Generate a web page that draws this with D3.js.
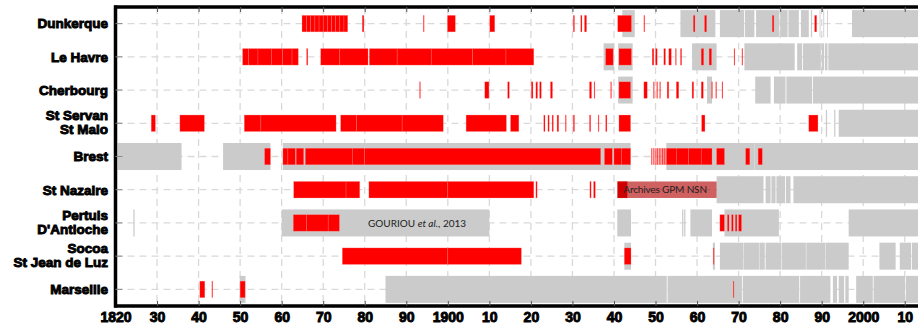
<!DOCTYPE html>
<html>
<head>
<meta charset="utf-8">
<script src="https://cdn.jsdelivr.net/npm/d3@7"></script>
<style>
  html, body { margin: 0; padding: 0; background: #fff; }
  svg { display: block; }
  .port-label { font-family: "Liberation Sans", Arial, sans-serif; font-weight: bold; font-size: 13.5px; fill: #000; stroke: #000; stroke-width: 0.9px; }
  .year-label { font-family: "Liberation Sans", Arial, sans-serif; font-weight: bold; font-size: 14px; fill: #000; stroke: #000; stroke-width: 0.9px; }
  .note { font-family: Lato, "Open Sans", sans-serif; font-size: 10px; fill: #222; }
</style>
</head>
<body>
<svg id="chart" width="918" height="325"></svg>
<script>
// Tide gauge records of French ports: digital series (gray) and archived sheets (red).
const ports = ["Dunkerque", "Le Havre", "Cherbourg", "St Servan|St Malo", "Brest",
               "St Nazaire", "Pertuls|D'Antioche", "Socoa|St Jean de Luz", "Marseille"];

const decades = [1820, 1830, 1840, 1850, 1860, 1870, 1880, 1890, 1900, 1910,
                 1920, 1930, 1940, 1950, 1960, 1970, 1980, 1990, 2000, 2010];
const decadeLabels = ["1820", "30", "40", "50", "60", "70", "80", "90", "1900", "10",
                      "20", "30", "40", "50", "60", "70", "80", "90", "2000", "10"];

// Year spans [start, end] per port
const dunkerqueGray = [[1942, 1945], [1956, 1964.4], [1965.5, 1971.3], [1971.5, 1973.8], [1974.2, 1979.8],
  [1980, 1981.8], [1982, 1984.5], [1985, 1986.9], [1987.4, 1987.7], [1989.5, 1989.7], [1990.4, 1990.6],
  [1991.3, 1991.5], [1997.3, 2014]];
const dunkerqueRed = [[1864.9, 1866], [1866, 1867], [1867, 1868], [1868, 1869], [1869, 1870],
  [1870, 1871], [1871, 1872], [1872, 1873], [1873, 1874], [1874, 1875], [1875, 1875.9],
  [1879.4, 1879.8], [1894.1, 1894.3], [1899.9, 1901.8], [1910.1, 1911.3], [1930.2, 1930.5],
  [1932, 1932.3], [1932.9, 1933.4], [1940.9, 1944.2], [1947.2, 1947.4], [1959.1, 1959.5],
  [1961.8, 1962.3], [1978.1, 1978.5], [1988.3, 1988.8]];

const leHavreGray = [[1937.5, 1940], [1941, 1944.5], [1958.8, 1964.7], [1971.4, 1983.5],
  [1984.1, 1985.3], [1985.5, 1989.8], [1990, 1990.6], [1990.8, 1991.4], [1991.6, 2014]];
const leHavreRed = [[1850.6, 1852], [1852, 1854.3], [1854.3, 1857.5], [1857.5, 1860.2], [1860.2, 1862.5],
  [1862.5, 1864], [1866, 1866.3], [1869.4, 1874], [1874, 1880.8], [1881.1, 1887.8], [1887.8, 1896],
  [1896, 1906], [1906, 1914], [1914, 1920.7], [1938, 1939.8], [1941.2, 1944.2], [1949.2, 1949.6],
  [1950, 1950.4], [1952, 1952.4], [1953.2, 1953.8], [1954.8, 1955], [1956, 1956.3], [1961, 1961.6],
  [1962.9, 1963.5], [1968.9, 1969.1], [1970.8, 1971]];

const cherbourgGray = [[1941, 1944.5], [1962.4, 1963.6], [1974, 1977.7], [1978.5, 1981.3],
  [1981.5, 1987.7], [1987.9, 2014]];
const cherbourgRed = [[1893.2, 1893.4], [1908.9, 1909.9], [1914.4, 1914.8], [1920.1, 1920.5],
  [1921.2, 1921.6], [1922.1, 1922.5], [1924.7, 1925.2], [1934.1, 1934.6], [1935.2, 1935.4],
  [1939.2, 1939.4], [1941.2, 1944], [1947.2, 1948], [1949.5, 1949.7], [1950.3, 1950.5],
  [1951, 1951.2], [1952.8, 1953.2], [1955, 1955.6], [1958.8, 1959.2], [1961, 1961.5],
  [1963.5, 1963.7], [1964.5, 1964.7], [1966, 1966.2]];

const stMaloGray = [[1991, 1991.3], [1993, 1993.3], [1994.1, 2014]];
const stMaloRed = [[1828.6, 1829.6], [1835.5, 1841.4], [1851, 1855], [1855, 1873.1],
  [1874.2, 1878], [1878, 1889], [1889, 1898.9], [1904.4, 1914.1], [1915.1, 1917.1],
  [1923.1, 1923.4], [1924.1, 1924.4], [1925.1, 1925.4], [1926.3, 1926.7], [1928.3, 1928.5],
  [1930.2, 1930.5], [1934.1, 1934.4], [1936.2, 1936.4], [1938, 1938.3], [1941.2, 1944],
  [1961.1, 1961.9], [1986.9, 1989.1]];

const brestGray = [[1820.5, 1835.9], [1845.9, 1857.3], [1860.3, 1944], [1952.6, 1973.8], [1973.8, 2014]];
const brestRed = [[1855.9, 1857.3], [1860.3, 1861.5], [1861.5, 1863.3], [1863.5, 1865.3],
  [1865.7, 1877], [1877, 1880], [1880, 1936.8], [1937.7, 1939.6], [1940, 1941.8], [1941.8, 1944],
  [1949, 1949.2], [1949.5, 1949.7], [1950, 1950.2], [1950.4, 1950.6], [1950.8, 1951],
  [1951.2, 1951.4], [1951.6, 1951.9], [1952.1, 1952.4], [1952.6, 1955], [1955, 1958],
  [1958, 1961], [1961, 1963.6], [1964.7, 1966.6], [1971.7, 1972.7], [1974.7, 1975.7]];

const stNazaireGray = [[1964.7, 1976], [1976.5, 1977.7], [1977.9, 1978.9], [1979.1, 1981.2],
  [1981.4, 1982.5], [1983.2, 2014]];
const stNazaireRed = [[1862.9, 1875.5], [1875.5, 1878.8], [1881, 1900], [1900, 1920.7],
  [1921.2, 1921.5], [1934.2, 1934.5], [1935.1, 1935.5], [1940.9, 1943.2]];

const pertuisGray = [[1824.3, 1824.6], [1860, 1910], [1940.8, 1944.1], [1956.4, 1956.7],
  [1956.9, 1957.2], [1958.4, 1963.6], [1966.6, 1979.7], [1996.5, 2014]];
const pertuisRed = [[1862.8, 1866], [1866, 1871.2], [1871.2, 1873.9], [1965.5, 1966.6],
  [1967.3, 1967.7], [1968.3, 1968.7], [1969.2, 1969.6], [1970, 1970.7]];

const socoaGray = [[1942.5, 1944.1], [1963.8, 1964.3], [1965.5, 1971.2], [1971.3, 1974.9],
  [1975, 1976.3], [1976.5, 1980.3], [1980.4, 1986.2], [1986.3, 1990.8], [1990.9, 1996.5],
  [2003.9, 2007.8], [2008.8, 2011.5], [2011.7, 2014]];
const socoaRed = [[1874.6, 1900], [1900, 1917.7], [1942.5, 1944.1], [1963.9, 1964.1]];

const marseilleGray = [[1849.9, 1851.3], [1885, 1952.7], [1952.9, 1970.8], [1971, 1984.6],
  [1984.8, 1992.1], [1992.7, 1993.7], [1994.1, 1995.4], [1995.7, 1996.5], [1998.3, 2002.3],
  [2002.5, 2010.1], [2010.3, 2014]];
const marseilleRed = [[1840.3, 1841.5], [1843.2, 1843.4], [1850, 1851.2], [1968.7, 1968.9]];

const graySpans = [dunkerqueGray, leHavreGray, cherbourgGray, stMaloGray, brestGray,
                   stNazaireGray, pertuisGray, socoaGray, marseilleGray];
const redSpans = [dunkerqueRed, leHavreRed, cherbourgRed, stMaloRed, brestRed,
                  stNazaireRed, pertuisRed, socoaRed, marseilleRed];

// Text boxes laid over the rows
const archiveBox = { port: "St Nazaire", span: [1940.8, 1964.7], text: "Archives GPM NSN" };
const gourRef = { port: "Pertuls|D'Antioche", year: 1892.6, text: ["GOURIOU ", "et al.", ", 2013"] };

// ---- layout ----
const W = 918, H = 325;
const plotLeft = 115.5, plotTop = 7, plotBottom = 306;
const svg = d3.select("#chart");

const x = d3.scaleLinear().domain([1820, 2014]).range([plotLeft, plotLeft + 194 * 4.154]);
const y = d3.scaleBand().domain(ports).range([plotTop, plotBottom]).padding(0);
const cy = p => y(p) + y.bandwidth() / 2;

const grayH = 27, redH = 16.5;

const plot = svg.append("g");
plot.append("clipPath").attr("id", "clip").append("rect")
  .attr("x", plotLeft).attr("y", plotTop).attr("width", W - plotLeft).attr("height", plotBottom - plotTop);

// dashed grid
const grid = plot.append("g").attr("stroke", "#d9d9d9").attr("stroke-width", 1.3)
  .attr("stroke-dasharray", "7,5");
grid.selectAll("line.v").data(decades.slice(1)).join("line").attr("class", "v")
  .attr("x1", d => x(d)).attr("x2", d => x(d)).attr("y1", plotTop).attr("y2", plotBottom);
grid.selectAll("line.h").data(ports).join("line").attr("class", "h")
  .attr("x1", plotLeft).attr("x2", W).attr("y1", cy).attr("y2", cy);

const marks = plot.append("g").attr("clip-path", "url(#clip)");

ports.forEach((p, i) => {
  marks.append("g").selectAll("rect").data(graySpans[i]).join("rect")
    .attr("x", d => x(d[0])).attr("width", d => Math.max(0.8, x(d[1]) - x(d[0])))
    .attr("y", cy(p) - grayH / 2).attr("height", grayH)
    .attr("fill", "#cbcbcb");
});

// red: archived records, thin light seams between adjacent sheets
ports.forEach((p, i) => {
  marks.append("g").selectAll("rect").data(redSpans[i]).join("rect")
    .attr("x", d => x(d[0])).attr("width", d => Math.max(0.8, x(d[1]) - x(d[0])))
    .attr("y", cy(p) - redH / 2).attr("height", redH)
    .attr("fill", "#ff0000")
    .attr("stroke", "rgba(255,140,140,0.55)").attr("stroke-width", 0.5);
});

// Archives GPM NSN box
const ab = marks.append("g");
ab.append("rect")
  .attr("x", x(archiveBox.span[0])).attr("width", x(archiveBox.span[1]) - x(archiveBox.span[0]))
  .attr("y", cy(archiveBox.port) - redH / 2).attr("height", redH)
  .attr("fill", "rgba(178,0,0,0.62)");
ab.append("text").attr("class", "note")
  .attr("x", x(archiveBox.span[0]) + 6).attr("y", cy(archiveBox.port) + 3.6)
  .attr("letter-spacing", "-0.15").attr("fill", "#111").text(archiveBox.text);

// Gouriou reference label
const gt = marks.append("text").attr("class", "note")
  .attr("x", x(gourRef.year)).attr("y", cy(gourRef.port) + 3.6).attr("text-anchor", "middle");
gt.append("tspan").text(gourRef.text[0]);
gt.append("tspan").attr("font-style", "italic").text(gourRef.text[1]);
gt.append("tspan").text(gourRef.text[2]);

// ---- axes ----
const axes = svg.append("g");

const bottomAxis = axes.append("g").attr("transform", `translate(0,${plotBottom})`)
  .call(d3.axisBottom(x).tickValues(decades).tickSizeInner(-5).tickSizeOuter(0).tickPadding(6)
    .tickFormat((d, i) => decadeLabels[i]));
bottomAxis.attr("font-size", null).attr("font-family", null);
bottomAxis.selectAll(".tick line").attr("stroke", "#555").attr("stroke-width", 1);
bottomAxis.selectAll(".tick text").attr("class", "year-label");
bottomAxis.select(".domain").attr("stroke", "#000").attr("stroke-width", 3.5)
  .attr("d", `M${plotLeft - 1.5},0H${W}`);

const topAxis = axes.append("g").attr("transform", `translate(0,${plotTop})`)
  .call(d3.axisTop(x).tickValues(decades).tickSizeInner(-5).tickSizeOuter(0).tickFormat(""));
topAxis.selectAll(".tick line").attr("stroke", "#555").attr("stroke-width", 1);
topAxis.select(".domain").attr("stroke", "#000").attr("stroke-width", 3.5)
  .attr("d", `M${plotLeft - 1.5},0H${W}`);

const leftAxis = axes.append("g").attr("transform", `translate(${plotLeft},0)`)
  .call(d3.axisLeft(y).tickSizeInner(-7).tickSizeOuter(0).tickFormat(""));
leftAxis.selectAll(".tick line").attr("stroke", "#888").attr("stroke-width", 1);
leftAxis.select(".domain").attr("stroke", "#000").attr("stroke-width", 3.5)
  .attr("d", `M0,${plotTop - 1.5}V${plotBottom + 1.5}`);

// port names, one or two lines
const labels = svg.append("g");
ports.forEach(p => {
  const lines = p.split("|");
  const t = labels.append("text").attr("class", "port-label").attr("text-anchor", "end");
  if (lines.length === 1) {
    t.append("tspan").attr("x", 108).attr("y", cy(p) + 4.8).text(lines[0]);
  } else {
    t.append("tspan").attr("x", 108).attr("y", cy(p) - 3.2).text(lines[0]);
    t.append("tspan").attr("x", 108).attr("y", cy(p) + 10.6).text(lines[1]);
  }
});
</script>
</body>
</html>
